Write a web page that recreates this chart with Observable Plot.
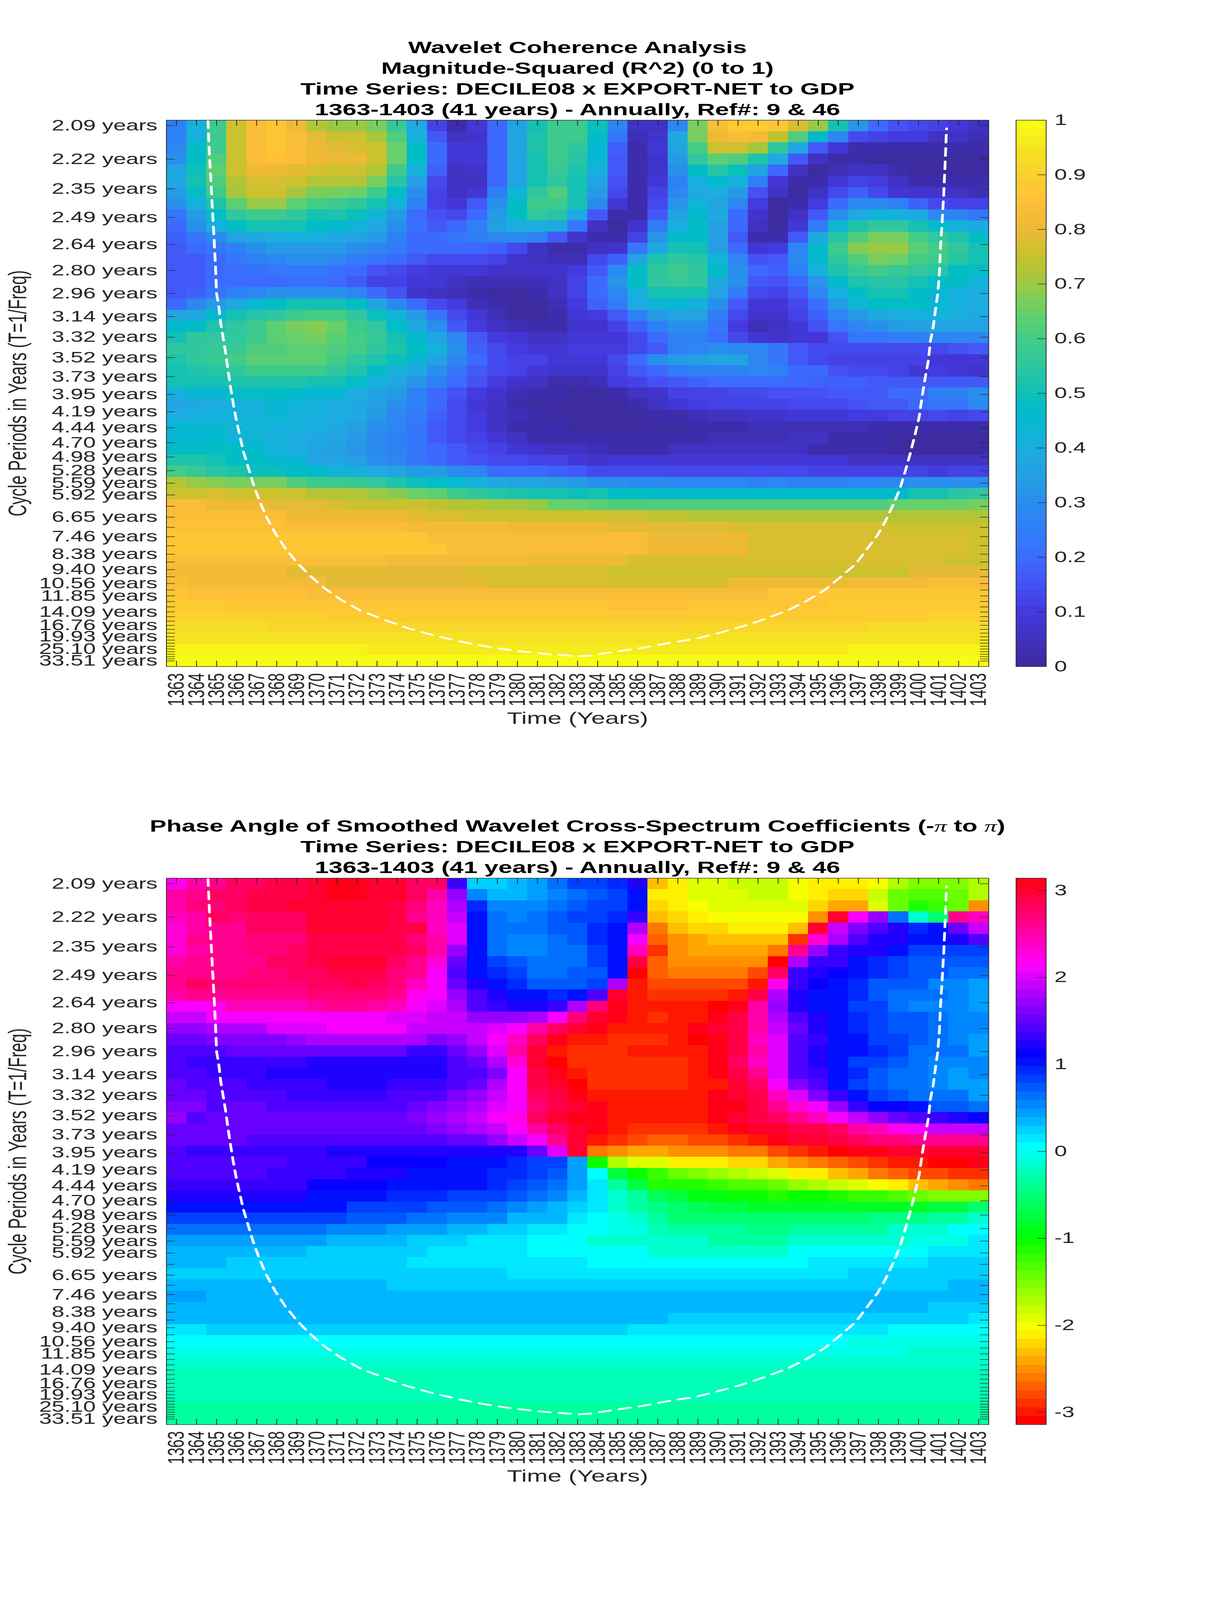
<!DOCTYPE html>
<html><head><meta charset="utf-8">
<script src="https://cdn.jsdelivr.net/npm/d3@7"></script>
<script src="https://cdn.jsdelivr.net/npm/@observablehq/plot@0.6"></script>
<style>
html,body{margin:0;padding:0;background:#fff;overflow:hidden}
#page{position:relative;width:3125px;height:6252px;overflow:hidden;font-family:"Liberation Sans",Arial,sans-serif;transform-origin:0 0}
.title{position:absolute;left:0;width:2956px;text-align:center;font-weight:bold;font-size:64px;line-height:81px;color:#000;white-space:nowrap}
.pi{font-family:"Liberation Serif",serif;font-style:italic;font-weight:normal}
</style></head><body><div id="page"></div>
<script>
const years=d3.range(1363,1404);
const periods=[2.09,2.22,2.35,2.49,2.64,2.80,2.96,3.14,3.32,3.52,3.73,3.95,4.19,4.44,4.70,4.98,5.28,5.59,5.92,6.27,6.65,7.05,7.46,7.91,8.38,8.87,9.40,9.96,10.56,11.19,11.85,12.55,13.30,14.09,14.93,15.82,16.76,17.76,18.81,19.93,21.12,22.37,23.70,25.10,26.60,28.18,29.86,31.63,33.51];
const labelledPeriods=[2.09,2.22,2.35,2.49,2.64,2.80,2.96,3.14,3.32,3.52,3.73,3.95,4.19,4.44,4.70,4.98,5.28,5.59,5.92,6.65,7.46,8.38,9.40,10.56,11.85,14.09,16.76,19.93,25.10,33.51];
const coiYears=[1364.57,1364.65,1364.71,1364.77,1364.83,1364.89,1364.95,1365.0,1365.12,1365.2,1365.34,1365.48,1365.54,1365.7,1365.84,1365.98,1366.14,1366.34,1366.6,1366.84,1367.13,1367.47,1367.93,1368.43,1369.02,1369.62,1370.41,1371.21,1372.2,1373.3,1374.49,1375.78,1377.07,1378.46,1379.85,1381.45,1383.03,1383.63,1384.95,1386.16,1387.67,1388.88,1390.09,1391.2,1392.31,1393.43,1394.44,1395.34,1396.15,1396.86,1397.46,1397.97,1398.37,1398.78,1399.08,1399.34,1399.58,1399.83,1400.03,1400.19,1400.35,1400.49,1400.59,1400.73,1400.84,1400.96,1401.04,1401.1,1401.18,1401.26,1401.32,1401.38,1401.4];
const coiPeriods=[2.07,2.21,2.30,2.41,2.52,2.64,2.79,2.96,3.07,3.19,3.34,3.51,3.61,3.86,4.09,4.31,4.55,4.87,5.24,5.63,6.08,6.62,7.31,8.05,8.92,9.82,11.06,12.33,13.91,15.43,17.39,19.42,21.55,23.87,25.97,28.01,29.6,29.07,26.45,24.63,22.08,20.7,18.69,17.04,15.43,13.91,12.45,11.17,9.93,9.01,8.05,7.37,6.77,6.16,5.73,5.29,4.92,4.55,4.27,3.96,3.72,3.55,3.36,3.23,3.09,2.96,2.82,2.65,2.51,2.37,2.25,2.13,2.10];
// Coherence R^2 in percent, rows top to bottom, columns 1363..1403
const coherence=[
[25,42,58,75,83,86,81,73,69,69,67,57,38,11,2,9,19,37,51,58,58,49,27,5,5,27,67,84,89,89,86,77,69,51,32,20,15,14,12,9,5],
[25,42,58,75,83,87,84,79,76,75,71,62,42,17,5,7,19,37,52,58,58,48,22,4,7,38,67,80,84,82,74,62,46,28,14,11,10,10,6,5,4],
[27,47,59,76,83,86,84,81,79,78,75,65,47,20,8,9,20,37,52,58,56,45,18,3,8,37,60,75,76,71,55,39,17,9,3,2,3,3,3,2,2],
[30,48,61,76,83,85,83,81,81,80,75,65,47,20,8,9,20,37,51,58,54,45,17,2,7,34,55,64,62,52,38,17,6,2,2,1,1,1,1,1,1],
[37,49,63,75,81,81,79,77,76,76,72,59,42,18,6,7,20,37,50,57,53,41,16,2,7,30,47,54,49,36,19,6,1,4,6,5,2,1,1,1,1],
[38,51,62,72,78,78,76,73,73,72,66,54,35,14,5,5,19,37,51,56,51,37,15,3,9,26,42,46,41,25,9,3,3,9,12,10,6,3,2,2,2],
[33,47,59,71,75,75,71,67,66,65,58,47,30,12,5,8,25,43,56,62,50,33,13,3,12,27,38,40,34,15,5,1,6,13,18,14,9,7,7,5,4],
[30,42,53,63,69,69,64,60,59,55,50,41,26,12,9,17,30,47,58,58,50,29,9,3,14,32,43,36,28,10,1,2,10,19,29,29,25,18,14,12,11],
[22,33,47,55,59,59,56,51,52,49,43,33,20,15,13,19,34,47,55,54,39,16,3,3,16,36,46,38,20,7,1,6,16,31,39,43,42,38,28,27,22],
[20,30,42,47,51,51,50,47,46,43,38,30,21,17,19,25,35,40,40,38,23,6,1,7,24,40,47,35,19,6,1,9,24,43,52,56,55,51,47,42,38],
[18,23,29,37,39,40,41,41,39,37,33,25,20,20,22,24,28,29,25,16,7,2,3,11,32,46,47,35,16,3,3,17,38,54,62,66,66,60,56,52,47],
[16,20,22,26,31,33,33,33,33,31,28,24,20,20,20,20,18,13,6,3,3,5,7,22,39,50,50,35,19,8,10,27,46,58,68,70,70,63,60,55,50],
[16,17,19,23,25,28,30,30,28,24,22,20,16,14,13,13,11,7,5,4,4,13,18,36,52,55,54,43,27,15,16,29,46,56,62,67,65,60,58,54,50],
[16,16,19,21,21,22,22,22,21,19,15,13,10,9,8,8,7,7,7,7,10,17,29,47,56,59,56,47,30,19,18,26,42,52,57,60,57,55,54,48,47],
[16,17,19,19,19,20,21,21,20,17,12,12,9,8,5,4,4,4,4,5,11,20,32,47,55,57,55,39,30,17,15,20,32,46,52,54,54,50,47,47,42],
[17,18,23,25,28,30,30,30,30,28,20,15,7,6,4,3,1,1,2,5,11,19,27,42,50,51,50,36,24,13,11,16,27,41,47,50,50,47,45,42,40],
[20,27,33,39,44,47,50,50,50,47,36,28,20,14,10,4,2,1,1,4,10,18,24,38,43,44,41,31,16,9,9,14,21,34,43,47,47,47,45,42,40],
[36,39,46,50,54,56,59,60,60,55,49,43,33,22,14,8,4,1,1,3,9,10,17,26,33,37,37,24,13,7,7,11,18,28,33,38,40,42,42,40,39],
[46,48,53,56,58,64,66,68,65,58,55,47,39,31,17,10,5,4,2,3,7,7,11,18,25,30,30,22,10,4,5,8,15,23,28,30,33,35,37,37,36],
[51,55,56,56,58,63,65,66,64,60,57,50,46,37,28,16,10,9,6,6,8,8,8,13,19,25,25,21,14,8,7,8,9,15,22,22,24,26,27,28,27],
[56,55,57,57,61,61,64,64,62,60,55,52,48,42,30,18,13,10,9,8,10,10,10,14,17,25,28,30,29,27,22,16,14,13,13,13,13,13,14,15,16],
[53,55,57,60,63,63,64,64,60,55,53,49,44,36,28,20,14,12,11,9,8,8,13,20,30,34,35,36,36,27,22,17,14,11,11,11,11,11,9,9,9],
[50,53,54,56,59,59,59,59,55,52,47,42,38,31,23,17,14,11,9,7,7,7,11,16,20,24,26,26,26,27,26,20,20,15,14,13,11,9,10,8,7],
[50,50,51,52,53,52,52,50,51,48,42,38,32,25,20,15,10,7,5,3,2,4,10,12,15,17,18,19,19,19,19,19,18,18,18,17,17,17,16,16,16],
[41,45,45,47,47,47,46,45,44,40,37,33,25,20,15,10,7,4,2,2,1,1,2,5,7,11,12,12,14,14,15,15,15,16,16,17,19,20,26,26,30],
[37,39,40,41,42,44,43,42,40,38,35,30,25,19,13,9,6,3,1,1,1,1,1,3,5,8,10,11,12,12,12,13,13,14,15,16,17,20,22,23,29],
[40,41,42,42,43,44,42,41,40,38,33,28,24,18,13,10,6,4,2,1,1,0,1,1,3,3,4,5,6,7,7,8,8,9,10,10,11,12,13,12,14],
[44,44,44,43,43,42,41,40,38,35,31,27,23,17,14,10,6,3,2,3,1,1,1,1,1,1,2,2,3,4,4,4,4,4,4,3,3,3,3,3,3],
[45,45,46,43,43,42,40,39,37,33,29,25,22,17,14,11,8,6,3,3,2,2,2,2,2,2,3,4,4,4,4,5,5,3,3,3,1,1,1,0,0],
[48,47,47,47,46,42,40,37,35,32,29,25,22,19,16,13,11,9,7,5,5,4,3,3,3,5,5,5,5,5,5,5,3,3,3,3,1,1,1,1,1],
[53,52,50,48,47,45,44,36,36,35,31,28,23,20,17,15,13,13,12,12,9,7,8,8,8,8,8,8,8,8,8,8,8,8,6,6,6,5,5,5,5],
[60,57,54,52,49,49,47,46,43,41,39,37,34,33,29,28,20,20,20,18,16,14,14,13,13,13,13,13,13,13,13,13,12,12,12,12,12,11,10,12,12],
[72,70,68,67,66,67,62,58,58,57,55,53,49,47,44,41,38,37,36,35,33,31,30,29,29,28,27,27,27,26,27,25,25,25,28,28,29,30,30,31,31],
[76,76,77,76,75,75,75,73,73,72,69,68,65,63,59,56,54,52,50,50,49,50,47,47,46,46,46,46,46,46,46,46,46,46,46,46,46,50,50,54,55],
[84,84,81,81,81,79,79,79,78,76,76,76,75,74,73,72,71,71,69,65,65,63,62,62,62,61,61,61,61,61,61,61,61,61,61,61,65,65,65,65,66],
[84,84,84,84,84,84,81,81,81,81,80,80,79,78,77,76,76,76,76,75,75,75,75,75,74,74,72,72,72,72,72,72,72,72,72,72,72,72,72,72,72],
[85,85,85,85,85,85,84,84,84,84,84,84,82,82,82,82,82,81,81,81,81,80,79,79,79,79,79,79,77,77,77,77,77,77,77,77,76,76,76,76,76],
[87,87,87,87,87,87,86,86,86,86,86,86,86,84,84,84,84,84,84,84,83,83,83,83,81,81,81,81,81,78,78,78,78,78,78,78,78,78,78,78,75],
[86,86,86,86,86,86,86,86,86,86,86,86,86,86,84,84,84,84,84,84,83,83,83,83,81,81,81,81,81,78,78,78,78,78,78,78,78,78,78,78,76],
[84,84,84,84,84,84,84,84,84,84,84,82,82,82,82,82,82,82,81,81,81,80,80,78,78,78,78,78,78,77,77,77,77,77,77,77,77,77,77,75,75],
[82,82,82,82,82,82,79,79,79,79,79,79,79,79,79,77,77,77,77,77,77,77,76,76,76,76,76,76,76,76,76,76,76,76,76,76,76,79,79,79,79],
[84,82,82,82,82,82,82,82,79,79,79,79,79,79,79,79,78,78,78,78,78,78,78,78,78,78,78,78,80,80,80,80,80,80,82,82,82,82,84,84,84],
[86,85,85,85,85,85,85,84,84,84,84,84,84,84,84,84,83,83,83,83,83,83,84,84,84,84,84,84,84,84,86,86,86,86,86,86,86,86,87,87,87],
[88,88,88,86,86,86,86,86,86,86,86,86,86,86,86,86,86,86,86,86,86,86,85,85,85,85,87,87,87,87,87,87,87,88,88,88,88,88,89,89,89],
[90,90,90,90,90,90,90,90,89,89,89,89,89,89,89,89,89,89,89,89,89,89,89,89,89,89,89,89,89,89,89,89,89,89,89,89,89,89,90,90,90],
[93,93,93,93,93,92,92,92,92,92,92,92,92,92,92,92,92,92,92,92,92,92,92,92,92,92,92,92,92,92,92,92,92,92,92,93,93,93,93,93,93],
[95,95,95,95,95,95,95,95,95,95,95,95,95,95,95,95,95,95,95,95,95,95,95,95,95,95,95,95,95,95,95,95,95,95,95,95,95,95,95,95,95],
[98,98,98,98,98,98,98,98,98,98,96,96,96,96,96,96,96,96,96,96,96,96,96,96,96,96,96,96,96,96,96,96,96,96,98,98,98,98,98,98,98],
[100,100,100,100,100,100,100,100,100,100,100,100,100,100,100,100,100,100,100,100,100,100,100,100,100,100,100,100,100,100,100,100,100,100,100,100,100,100,100,100,100]];
// Phase angle in hundredths of a radian
const phase=[
[220,255,265,280,280,285,290,295,310,310,300,295,275,275,135,20,20,30,45,60,80,85,95,125,-227,-208,-190,-190,-185,-185,-185,-198,-208,-215,-208,-198,-170,-157,-157,-157,-175],
[250,265,275,275,285,285,285,300,310,310,295,295,280,255,175,55,30,30,45,55,65,75,80,100,-210,-210,-195,-195,-195,-185,-185,-200,-208,-220,-220,-185,-145,-130,-130,-140,-175],
[255,270,270,275,285,285,295,295,300,300,295,290,270,245,185,90,50,50,52,60,70,80,85,100,-220,-210,-205,-195,-195,-195,-195,-195,-225,-240,-245,-195,-140,-115,-120,-140,-250],
[245,255,275,270,275,280,280,295,300,300,295,290,265,245,195,105,60,50,65,70,80,80,95,130,-235,-225,-215,-205,-205,-205,-205,-205,-250,295,215,170,60,-10,-55,260,240],
[235,255,260,265,275,275,275,295,295,300,300,290,285,245,205,105,65,60,60,70,70,95,105,185,-260,-235,-220,-220,-210,-210,-210,-235,295,195,160,140,120,95,105,155,190],
[235,260,260,260,270,270,270,285,290,290,290,285,270,250,205,105,60,55,55,65,70,90,105,215,-270,-250,-240,-230,-230,-230,-230,-290,230,180,145,125,120,105,105,120,140],
[230,255,260,260,270,270,275,290,290,290,290,285,275,250,170,105,65,55,55,65,65,85,105,240,-285,-255,-245,-245,-245,-245,-260,260,175,135,125,120,100,85,80,85,85],
[250,260,265,265,265,275,275,285,295,300,295,280,265,230,150,105,80,70,60,65,65,80,105,290,-270,-255,-250,-250,-250,-250,-305,185,135,130,105,95,85,75,70,70,70],
[260,265,265,265,270,270,275,275,285,290,290,270,260,215,145,100,90,80,65,65,70,75,105,-305,-270,-260,-260,-260,-260,-275,280,130,125,115,105,95,80,70,70,60,60],
[265,275,270,270,270,270,270,280,280,285,280,270,245,210,150,120,105,90,75,75,75,80,185,-295,-275,-275,-275,-275,-275,-300,220,130,110,105,90,75,75,70,55,55,45],
[255,265,265,265,265,260,260,270,270,270,270,260,220,215,170,140,120,105,105,95,105,140,295,-300,-285,-285,-285,-285,-300,290,180,125,105,100,90,70,65,60,60,55,45],
[215,215,225,240,240,240,245,250,265,265,250,245,215,205,180,145,135,125,120,135,180,270,310,-300,-300,-300,-300,-305,310,250,175,125,105,100,85,85,65,55,55,50,45],
[195,195,210,210,210,210,210,210,210,210,210,205,205,195,190,175,175,170,185,210,270,295,310,-300,-290,-300,-300,310,290,250,180,140,120,105,95,80,70,70,65,55,55],
[170,170,185,185,185,200,200,200,210,210,210,210,195,195,190,190,200,210,250,280,300,314,-300,-300,-300,-300,310,300,285,250,195,150,125,105,95,80,75,70,65,55,55],
[150,155,160,160,165,165,175,180,180,180,180,180,180,160,175,195,210,245,275,305,-300,-300,-290,-290,-290,-295,-310,305,285,245,200,145,130,105,100,80,80,70,65,55,45],
[140,140,145,150,150,150,150,150,150,150,150,150,135,135,150,170,200,255,300,-300,-290,-285,-285,-295,-295,-300,-300,305,285,250,205,145,120,105,100,90,80,60,60,60,45],
[140,130,130,130,130,130,130,125,125,125,125,125,125,125,140,155,185,235,300,-310,-285,-285,-285,-285,-285,-290,-300,310,280,245,205,145,125,105,85,85,75,65,55,50,50],
[145,145,135,135,135,125,125,125,125,125,125,125,125,125,140,145,165,215,290,314,-295,-285,-285,-285,-285,-290,-295,310,290,260,205,145,130,100,90,70,65,65,55,45,50],
[155,140,140,140,130,130,130,130,122,122,122,130,130,130,145,155,180,210,285,300,-310,-290,-285,-285,-285,-290,-295,-300,300,275,210,160,140,105,85,75,65,65,55,45,45],
[155,155,140,140,140,140,130,130,130,130,130,140,140,145,160,175,190,210,275,290,305,-300,-295,-295,-295,-295,-300,310,300,285,245,200,165,130,105,85,75,65,60,60,45],
[160,160,145,150,150,145,145,145,145,145,145,145,150,160,170,185,205,210,270,285,300,314,-300,-300,-300,-300,-300,310,305,290,265,235,215,175,135,115,110,105,75,75,60],
[170,145,150,150,150,150,150,150,150,150,150,150,160,170,180,195,210,220,275,295,310,314,-300,-300,-300,-300,-300,305,300,290,280,260,240,215,190,175,155,140,130,125,110],
[150,150,150,150,150,150,150,150,150,150,150,150,150,165,175,185,190,210,250,280,300,314,-300,-285,-285,-285,-285,-300,314,300,295,290,285,275,250,240,220,210,195,195,195],
[150,150,150,150,140,140,140,140,140,140,140,140,140,140,155,155,170,190,210,260,300,-300,-285,-275,-270,-270,-280,-280,-290,-300,314,300,295,285,275,270,270,265,265,265,265],
[140,135,135,135,135,135,135,135,125,125,125,125,125,125,125,125,125,125,150,200,300,-265,-250,-240,-240,-255,-255,-255,-265,-265,-275,-285,-295,-305,314,314,300,300,295,295,295],
[140,140,140,140,140,140,130,130,130,130,112,112,112,112,105,105,105,95,85,80,40,-105,-175,-195,-195,-209,-210,-210,-225,-225,-240,-250,-260,-270,-275,-285,-295,-300,-305,-305,314],
[145,145,145,145,145,130,130,130,130,120,120,120,105,105,105,105,95,90,85,70,45,0,-75,-105,-125,-140,-150,-160,-170,-180,-195,-209,-215,-230,-245,-260,-270,-275,-280,-285,-285],
[130,130,130,130,130,130,130,115,115,115,115,105,105,105,105,105,90,85,75,60,42,15,-30,-70,-110,-115,-115,-125,-135,-135,-145,-160,-170,-185,-195,-205,-215,-235,-245,-255,-265],
[120,120,120,120,120,120,120,105,105,105,105,97,97,97,85,85,80,70,60,52,35,15,-10,-35,-60,-75,-95,-95,-100,-105,-110,-105,-105,-115,-125,-125,-135,-140,-150,-150,-150],
[100,100,100,100,100,100,100,100,100,85,85,85,85,75,75,70,62,55,45,30,22,15,-10,-30,-40,-55,-60,-70,-70,-80,-80,-80,-80,-80,-80,-80,-80,-80,-75,-75,-50],
[80,80,80,80,80,80,80,80,80,70,70,70,62,62,55,55,50,38,38,30,15,2,-5,-15,-30,-50,-50,-52,-52,-52,-52,-52,-52,-52,-52,-45,-45,-45,-30,-30,-10],
[65,65,65,65,65,65,65,65,55,55,55,42,42,42,32,32,25,25,12,12,5,2,-5,-5,-20,-30,-30,-30,-30,-45,-45,-30,-30,-30,-30,-30,-10,-10,-10,0,0],
[40,40,40,40,40,40,40,40,32,32,32,32,20,20,20,10,10,10,0,0,0,-10,-15,-15,-15,-15,-15,-30,-30,-30,-30,-15,-15,-15,-15,-15,-15,-2,-2,-2,10],
[30,30,30,30,30,30,30,20,20,20,20,20,20,10,10,10,10,10,0,0,0,0,0,0,-10,-10,-10,-10,-10,-10,-10,0,0,0,0,0,0,0,10,10,10],
[30,30,30,20,20,20,20,20,20,20,20,20,10,10,10,10,10,10,10,10,10,0,2,2,2,2,2,2,2,2,2,2,10,10,10,10,10,10,20,20,20],
[28,28,28,28,20,20,20,20,20,20,20,20,20,20,20,20,20,10,10,10,10,10,10,10,10,10,10,10,10,10,10,10,10,10,20,20,20,20,20,20,20],
[30,30,30,30,30,30,30,30,30,30,30,20,20,20,20,20,20,20,20,20,20,20,20,20,20,20,20,20,20,20,20,20,20,20,20,20,20,20,20,30,30],
[42,42,33,33,33,33,33,33,33,33,33,33,33,33,33,33,33,33,33,33,33,33,33,33,33,33,33,33,33,33,33,33,33,33,33,33,33,33,33,33,33],
[33,33,33,33,33,33,33,33,33,33,33,33,33,33,33,33,33,33,33,33,33,33,33,33,33,33,33,33,33,33,33,33,33,33,33,33,33,33,25,25,25],
[33,33,33,33,33,33,33,33,33,33,33,33,33,33,33,33,33,33,33,33,33,33,33,33,33,25,25,25,25,25,25,25,25,25,25,25,25,25,25,25,15],
[10,10,20,20,20,20,20,20,20,20,20,20,20,20,20,20,20,20,20,20,20,20,20,10,10,10,10,10,10,10,10,10,10,10,10,10,0,0,0,0,0],
[0,0,0,0,0,0,0,0,0,0,0,0,0,0,0,0,0,0,0,0,0,0,0,0,0,0,0,0,0,0,0,0,0,0,-5,-5,-5,-5,-5,-5,-5],
[-8,-8,-8,-8,-8,-8,-8,-8,-8,-8,-8,-8,-8,-8,-8,-8,-8,-8,-8,-8,-8,-8,-8,-8,-8,-8,-8,-8,-8,-8,-8,-8,-8,-8,-8,-8,-8,-15,-15,-15,-15],
[-10,-10,-10,-10,-10,-10,-10,-10,-10,-10,-10,-10,-10,-10,-10,-10,-10,-10,-10,-10,-10,-10,-10,-10,-10,-10,-18,-18,-18,-18,-18,-18,-18,-18,-18,-18,-18,-18,-18,-18,-18],
[-20,-20,-20,-20,-20,-20,-20,-20,-20,-20,-20,-20,-20,-20,-20,-20,-20,-20,-20,-20,-20,-20,-20,-20,-20,-20,-20,-20,-20,-20,-20,-20,-20,-20,-20,-20,-20,-20,-20,-20,-20],
[-20,-20,-20,-20,-20,-20,-20,-20,-20,-20,-20,-20,-20,-20,-20,-20,-20,-20,-20,-20,-20,-20,-20,-20,-20,-20,-20,-20,-20,-20,-20,-20,-20,-20,-20,-20,-20,-20,-20,-20,-20],
[-20,-20,-20,-20,-20,-20,-20,-20,-20,-20,-20,-20,-20,-20,-20,-20,-20,-20,-20,-20,-20,-20,-20,-20,-20,-20,-20,-20,-20,-20,-20,-20,-20,-20,-20,-20,-20,-20,-20,-20,-20],
[-30,-30,-30,-30,-30,-30,-30,-30,-30,-30,-30,-30,-30,-30,-30,-30,-30,-30,-30,-30,-30,-30,-30,-30,-30,-30,-30,-30,-30,-30,-30,-30,-30,-30,-30,-30,-30,-30,-30,-30,-30],
[-30,-30,-30,-30,-30,-30,-30,-30,-30,-30,-30,-30,-30,-30,-30,-30,-30,-30,-30,-30,-30,-30,-30,-30,-30,-30,-30,-30,-30,-30,-30,-30,-30,-30,-30,-30,-30,-30,-30,-30,-30]];
const coherenceStopValues=[0,.05,.1,.15,.2,.25,.3,.35,.4,.45,.47,.5,.55,.6,.65,.7,.75,.8,.85,.9,.95,1];
const coherenceStopColors=["#3b2a9c","#4031bf","#4339df","#4552f5","#3b6cff","#2f7ff6","#2a8ded","#24a0e2","#1bade0","#06b8d0","#00bccb","#0fc0b5","#2ec6a0","#42cc86","#68d06a","#9cc942","#c6c22c","#ecb936","#ffbf38","#fad22d","#f5e521","#f8ff10"];
const hsvStops=["#ff0000","#ffff00","#00ff00","#00ffff","#0000ff","#ff00ff","#ff0000"];
const coherenceTicks=[0,.1,.2,.3,.4,.5,.6,.7,.8,.9,1];
const phaseTicks=[-3,-2,-1,0,1,2,3];

const INK="#262626",FONT="Liberation Sans";
const nLevels=64;
const PI=Math.PI;
const cohInterp=d3.scaleLinear().domain(coherenceStopValues).range(coherenceStopColors).interpolate(d3.interpolateRgb);
const hsvInterp=d3.piecewise(d3.interpolateRgb,hsvStops);
const coherenceScale={type:"threshold",domain:d3.range(1,nLevels).map(i=>i/nLevels),range:d3.range(nLevels).map(i=>cohInterp((i+.5)/nLevels))};
const phaseScale={type:"threshold",domain:d3.range(1,nLevels).map(i=>-PI+2*PI*i/nLevels),range:d3.range(nLevels).map(i=>hsvInterp(i/nLevels))};

const M={left:425.5,right:30,top:469,bottom:296,w:2560,h:2900};
const f0=1/periods[0],fN=1/periods[48],df=(f0-fN)/48;
const fTop=f0+df/2,fBot=fN-df/2;
const tickX=22/((M.w-M.left-M.right)/41),tickF=22/((M.h-M.top-M.bottom)/(fTop-fBot));
const labelOf=new Map(labelledPeriods.map(p=>[1/p,p.toFixed(2)+" years"]));
const coi=coiYears.map((x,i)=>({x,f:1/coiPeriods[i]}));

function heatmap(rows,scaleDiv,colorScale,top){
  const cells=rows.flatMap((row,r)=>row.map((v,c)=>({year:years[c],r,v:v/scaleDiv})));
  return Plot.plot({
    width:M.w,height:M.h,marginLeft:M.left,marginRight:M.right,marginTop:M.top,marginBottom:M.bottom,
    style:{fontFamily:FONT,fontSize:"58px",color:INK,background:"transparent",position:"absolute",left:"0",top:top+"px",maxWidth:"none"},
    x:{domain:[1362.5,1403.5],axis:null},
    y:{domain:[fBot,fTop],axis:null},
    color:colorScale,
    marks:[
      Plot.rect(cells,{x1:d=>d.year-.5,x2:d=>d.year+.5,y1:d=>fTop-d.r*df,y2:d=>fTop-(d.r+1)*df,fill:"v",shapeRendering:"crispEdges"}),
      Plot.line(coi,{x:"x",y:"f",stroke:"white",strokeWidth:7,strokeDasharray:"30,22"}),
      Plot.ruleX(years,{y1:fBot,y2:fBot+tickF,stroke:INK,strokeWidth:2}),
      Plot.ruleX(years,{y1:fTop-tickF,y2:fTop,stroke:INK,strokeWidth:2}),
      Plot.ruleY(periods.map(p=>1/p),{x1:1362.5,x2:1362.5+tickX,stroke:INK,strokeWidth:2}),
      Plot.ruleY(periods.map(p=>1/p),{x1:1403.5-tickX,x2:1403.5,stroke:INK,strokeWidth:2}),
      Plot.frame({stroke:INK,strokeWidth:2}),
      Plot.axisX({ticks:years,tickFormat:d=>String(d),tickRotate:-90,tickSize:0,tickPadding:26,label:null,fontSize:58,fontFamily:FONT}),
      Plot.axisY({ticks:labelledPeriods.map(p=>1/p),tickFormat:f=>labelOf.get(f),tickSize:0,tickPadding:23,label:null,fontSize:58,fontFamily:FONT}),
      Plot.text(["Time (Years)"],{frameAnchor:"bottom",lineAnchor:"middle",dy:203,fontSize:64,fontFamily:FONT,fill:INK}),
      Plot.text(["Cycle Periods in Years (T=1/Freq)"],{frameAnchor:"left",textAnchor:"middle",lineAnchor:"middle",dx:-379,rotate:-90,fontSize:64,fontFamily:FONT,fill:INK})
    ]
  });
}
function colorbar(domain,ticks,colorScale,top){
  const [lo,hi]=domain;
  const levels=d3.range(nLevels).map(i=>({a:lo+(hi-lo)*i/nLevels,b:lo+(hi-lo)*(i+1)/nLevels}));
  return Plot.plot({
    width:365,height:M.h,marginLeft:40,marginRight:248,marginTop:M.top,marginBottom:M.bottom,
    style:{fontFamily:FONT,fontSize:"58px",color:INK,background:"transparent",position:"absolute",left:"2560px",top:top+"px",maxWidth:"none"},
    x:{domain:[0,1],axis:null},
    y:{domain,axis:null},
    color:colorScale,
    marks:[
      Plot.rect(levels,{x1:0,x2:1,y1:"a",y2:"b",fill:d=>(d.a+d.b)/2,shapeRendering:"crispEdges"}),
      Plot.ruleY(ticks,{x1:1-22/77,x2:1,stroke:INK,strokeWidth:2}),
      Plot.frame({stroke:INK,strokeWidth:2}),
      Plot.axisY({anchor:"right",ticks,tickFormat:d=>String(d),tickSize:0,tickPadding:21,label:null,fontSize:58,fontFamily:FONT})
    ]
  });
}
function title(lines,top){
  const d=document.createElement("div");d.className="title";d.style.top=top+"px";
  d.innerHTML=lines.join("<br>");return d;
}
const page=document.getElementById("page");
const TOP2=2962;
page.append(
  title(["Wavelet Coherence Analysis","Magnitude-Squared (R^2) (0 to 1)","Time Series: DECILE08 x EXPORT-NET to GDP","1363-1403 (41 years) - Annually, Ref#: 9 &amp; 46"],145),
  heatmap(coherence,100,coherenceScale,0),
  colorbar([0,1],coherenceTicks,coherenceScale,0),
  title(['Phase Angle of Smoothed Wavelet Cross-Spectrum Coefficients (-<span class="pi">π</span> to <span class="pi">π</span>)',"Time Series: DECILE08 x EXPORT-NET to GDP","1363-1403 (41 years) - Annually, Ref#: 9 &amp; 46"],3188),
  heatmap(phase,100,phaseScale,TOP2),
  colorbar([-PI,PI],phaseTicks,phaseScale,TOP2)
);
// The window can be shorter than the 6252px layout; fit the layout's height to what is visible.
const fit=Math.min(1,window.innerHeight/6252);
if(fit<1)page.style.transform=`scale(1,${fit})`;
</script></body></html>
